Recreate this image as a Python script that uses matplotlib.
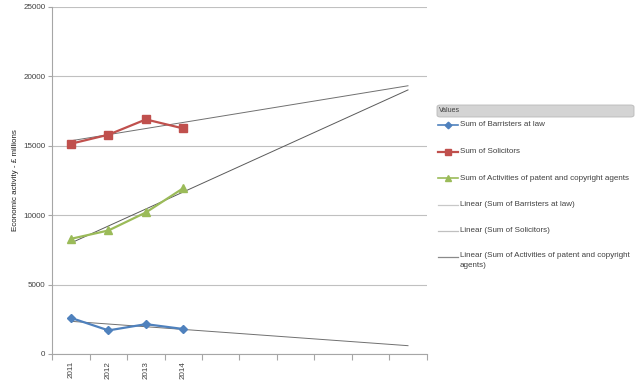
import numpy as np
import matplotlib
matplotlib.use("Agg")
import matplotlib.pyplot as plt
from matplotlib.lines import Line2D
from matplotlib.patches import FancyBboxPatch

years = ["2011", "2012", "2013", "2014"]
n_slots = 10  # category slots on the x axis (4 years + 6 forecast periods)
barristers = [2600, 1700, 2150, 1800]
solicitors = [15150, 15800, 16900, 16250]
patent = [8300, 8900, 10200, 11950]
series_names = ["Sum of Barristers at law", "Sum of Solicitors",
                "Sum of Activities of patent and copyright agents"]
yticks = [0, 5000, 10000, 15000, 20000, 25000]

plt.rcParams['font.family'] = ['Liberation Sans', 'DejaVu Sans']

fig = plt.figure(figsize=(6.4, 3.81), dpi=100)
ax = fig.add_axes([52.3/640, 1-354/381, (426.7-52.3)/640, (354-7)/381])

colors = ['#4F81BD', '#C0504D', '#9BBB59']
markers = ['D', 's', '^']
msizes = [4.2, 5.2, 5.5]
data = [barristers, solicitors, patent]
x = np.arange(len(years))
xf = np.arange(n_slots)
trend_colors = ['#707070', '#707070', '#5a5a5a']

for vals, c in zip(data, trend_colors):
    coef = np.polyfit(x, vals, 1)
    ax.plot(xf, np.polyval(coef, xf), color=c, lw=0.7, zorder=2)
for vals, c, m, ms in zip(data, colors, markers, msizes):
    ax.plot(x, vals, color=c, lw=1.6, marker=m, ms=ms, zorder=3)

ax.set_xlim(-0.5, n_slots - 0.5)
ax.set_ylim(0, 25000)
ax.set_yticks(yticks)
ax.set_yticklabels([str(v) for v in yticks])
ax.set_xticks(x)
ax.set_xticklabels(years, rotation=90)
ax.set_xticks(np.arange(-0.5, n_slots), minor=True)
ax.tick_params(axis='x', which='major', length=0, pad=5, labelsize=5.8, labelcolor='#404040')
ax.tick_params(axis='x', which='minor', length=4, color='#a6a6a6', width=0.8)
ax.tick_params(axis='y', length=3, color='#a6a6a6', width=0.8, labelsize=5.8, labelcolor='#404040', pad=2)
ax.grid(axis='y', color='#c0c0c0', lw=0.8)
ax.set_axisbelow(True)
for s in ['top', 'right']:
    ax.spines[s].set_visible(False)
for s in ['left', 'bottom']:
    ax.spines[s].set_color('#a6a6a6')
    ax.spines[s].set_linewidth(0.8)
ax.set_ylabel("Economic activity - £ millions", fontsize=5.8, labelpad=6, color='#202020')
ax.yaxis.set_label_coords(-0.088, 0.5)

# legend
def fx(px):
    return px / 640
def fy(py):
    return 1 - py / 381

hdr = FancyBboxPatch((fx(437), fy(117)), fx(634) - fx(437), fy(105) - fy(117),
                     boxstyle="round,pad=0,rounding_size=0.005", transform=fig.transFigure,
                     facecolor='#d4d4d4', edgecolor='#b8b8b8', lw=0.6)
fig.patches.append(hdr)
fig.text(fx(439), fy(111), "Values", fontsize=5, color='#404040', va='center')

entries = [
    (125, colors[0], markers[0], msizes[0] * 0.8, 1.2, series_names[0]),
    (151.7, colors[1], markers[1], msizes[1] * 0.9, 1.6, series_names[1]),
    (178.3, colors[2], markers[2], msizes[2] * 0.8, 1.2, series_names[2]),
    (205, '#c8c8c8', None, 0, 0.9, "Linear (" + series_names[0] + ")"),
    (231, '#c0c0c0', None, 0, 0.9, "Linear (" + series_names[1] + ")"),
    (256.7, '#8a8a8a', None, 0, 0.9, "Linear (Sum of Activities of patent and copyright\nagents)"),
]
for yy, c, m, ms, lw, label in entries:
    fig.lines.append(Line2D([fx(438), fx(458)], [fy(yy), fy(yy)], transform=fig.transFigure,
                            color=c, lw=lw))
    if m:
        fig.lines.append(Line2D([fx(448)], [fy(yy)], transform=fig.transFigure,
                                color=c, marker=m, ms=ms, lw=0))
    multi = '\n' in label
    fig.text(fx(459.5), fy(yy - 4.5) if multi else fy(yy), label, fontsize=5.8, color='#404040',
             va='top' if multi else 'center', linespacing=1.55, transform=fig.transFigure)

fig.savefig("out.png", dpi=100)
